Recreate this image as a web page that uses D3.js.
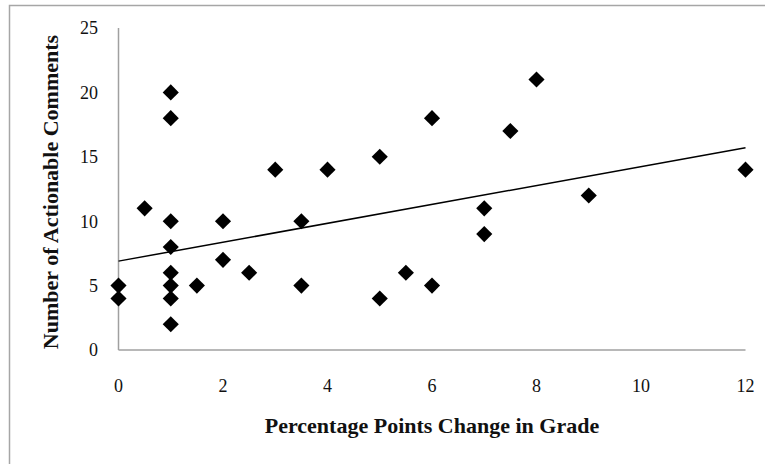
<!DOCTYPE html>
<html>
<head>
<meta charset="utf-8">
<script src="https://cdn.jsdelivr.net/npm/d3@7"></script>
<style>
  body { margin: 0; background: #fff; }
  svg text { font-family: "Liberation Serif", "DejaVu Serif", serif; fill: #111; }
</style>
</head>
<body>
<svg id="chart" width="765" height="464"></svg>
<script>
// grade change (percentage points) vs number of actionable comments
var gradeChange = [0, 0, 0.5, 1, 1, 1, 1, 1, 1, 1, 1, 1.5, 2, 2, 2.5, 3, 3.5, 3.5, 4, 5, 5, 5.5, 6, 6, 7, 7, 7.5, 8, 9, 12];
var comments    = [5, 4, 11, 20, 18, 10, 8, 6, 5, 4, 2, 5, 10, 7, 6, 14, 10, 5, 14, 15, 4, 6, 18, 5, 11, 9, 17, 21, 12, 14];

// linear trendline
var trendX = [0, 12];
var trendY = [6.9, 15.7];

var xTicks = [0, 2, 4, 6, 8, 10, 12];
var yTicks = [0, 5, 10, 15, 20, 25];

var svg = d3.select('#chart');

// outer frame (only left and top edges visible)
svg.append('path')
	.attr('d', 'M9.5,464V5.5H765')
	.attr('fill', 'none')
	.attr('stroke', '#a6a6a6')
	.attr('stroke-width', 1.5);

var x = d3.scaleLinear().domain([0, 12]).range([118.5, 745.5]);
var y = d3.scaleLinear().domain([0, 25]).range([350, 28]);

// axes lines
svg.append('line')
	.attr('x1', x(0)).attr('x2', x(12))
	.attr('y1', y(0)).attr('y2', y(0))
	.attr('stroke', '#a0a0a0').attr('stroke-width', 1.5);
svg.append('line')
	.attr('x1', x(0)).attr('x2', x(0))
	.attr('y1', y(0)).attr('y2', y(25))
	.attr('stroke', '#a0a0a0').attr('stroke-width', 1.5);

// tick labels
svg.selectAll('.xtick')
	.data(xTicks)
	.enter()
	.append('text')
	.attr('class', 'xtick')
	.attr('x', function(d) { return x(d); })
	.attr('y', 392)
	.attr('text-anchor', 'middle')
	.style('font-size', '18px')
	.text(function(d) { return d; });

svg.selectAll('.ytick')
	.data(yTicks)
	.enter()
	.append('text')
	.attr('class', 'ytick')
	.attr('x', 98)
	.attr('y', function(d) { return y(d); })
	.attr('dy', '0.35em')
	.attr('text-anchor', 'end')
	.style('font-size', '18px')
	.text(function(d) { return d; });

// axis titles
svg.append('text')
	.attr('x', 432)
	.attr('y', 433)
	.attr('text-anchor', 'middle')
	.style('font-size', '22px')
	.style('font-weight', 'bold')
	.text('Percentage Points Change in Grade');

svg.append('text')
	.attr('transform', 'translate(58,192) rotate(-90)')
	.attr('text-anchor', 'middle')
	.style('font-size', '22px')
	.style('font-weight', 'bold')
	.text('Number of Actionable Comments');

// trendline
var line = d3.line()
	.x(function(d) { return x(d[0]); })
	.y(function(d) { return y(d[1]); });
svg.append('path')
	.attr('d', line(d3.zip(trendX, trendY)))
	.attr('fill', 'none')
	.attr('stroke', '#000')
	.attr('stroke-width', 1.5);

// diamond markers
var diamond = d3.symbol().type(d3.symbolSquare).size(130);
svg.selectAll('.pt')
	.data(d3.zip(gradeChange, comments))
	.enter()
	.append('path')
	.attr('class', 'pt')
	.attr('d', diamond)
	.attr('transform', function(d) { return 'translate(' + x(d[0]) + ',' + y(d[1]) + ') rotate(45)'; })
	.attr('fill', '#000');
</script>
</body>
</html>
